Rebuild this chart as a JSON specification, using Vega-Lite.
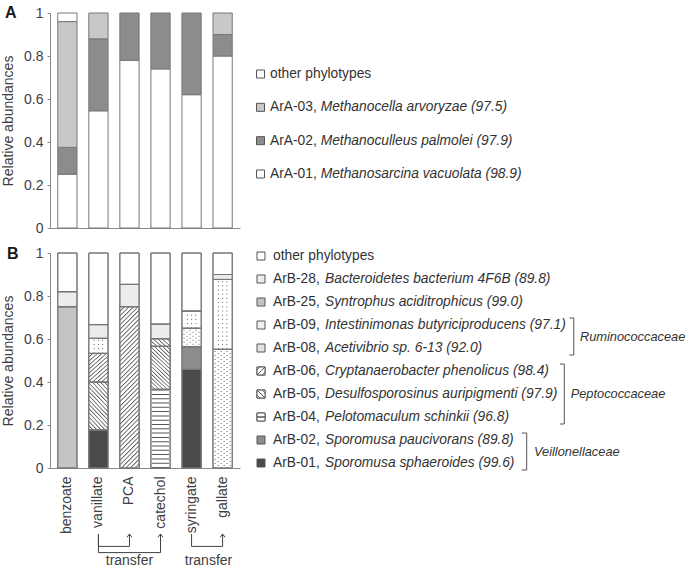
{
  "$schema": "https://vega.github.io/schema/vega-lite/v6.json",
  "padding": {"left": 1, "top": 5, "right": 0, "bottom": 0},
  "config": {
    "view": {"stroke": null},
    "font": "Liberation Sans",
    "text": {"font": "Liberation Sans"},
    "axis": {"labelFont": "Liberation Sans", "labelFontSize": 14, "labelColor": "#404040", "titleFont": "Liberation Sans", "titleFontSize": 14, "titleFontWeight": "normal", "titleColor": "#404040", "domainColor": "#8a8a8a", "tickColor": "#8a8a8a", "grid": false}
  },
  "datasets": {
    "a": [
      {"substrate": "benzoate", "taxon": "ArA-01", "value": 0.25},
      {"substrate": "benzoate", "taxon": "ArA-02", "value": 0.125},
      {"substrate": "benzoate", "taxon": "ArA-03", "value": 0.585},
      {"substrate": "benzoate", "taxon": "other phylotypes", "value": 0.04},
      {"substrate": "vanillate", "taxon": "ArA-01", "value": 0.545},
      {"substrate": "vanillate", "taxon": "ArA-02", "value": 0.335},
      {"substrate": "vanillate", "taxon": "ArA-03", "value": 0.12},
      {"substrate": "PCA", "taxon": "ArA-01", "value": 0.78},
      {"substrate": "PCA", "taxon": "ArA-02", "value": 0.22},
      {"substrate": "catechol", "taxon": "ArA-01", "value": 0.74},
      {"substrate": "catechol", "taxon": "ArA-02", "value": 0.26},
      {"substrate": "syringate", "taxon": "ArA-01", "value": 0.62},
      {"substrate": "syringate", "taxon": "ArA-02", "value": 0.38},
      {"substrate": "gallate", "taxon": "ArA-01", "value": 0.8},
      {"substrate": "gallate", "taxon": "ArA-02", "value": 0.1},
      {"substrate": "gallate", "taxon": "ArA-03", "value": 0.1}
    ],
    "b": [
      {"substrate": "benzoate", "taxon": "ArB-25", "value": 0.75},
      {"substrate": "benzoate", "taxon": "ArB-28", "value": 0.07},
      {"substrate": "benzoate", "taxon": "other phylotypes", "value": 0.18},
      {"substrate": "vanillate", "taxon": "ArB-01", "value": 0.177},
      {"substrate": "vanillate", "taxon": "ArB-05", "value": 0.223},
      {"substrate": "vanillate", "taxon": "ArB-06", "value": 0.133},
      {"substrate": "vanillate", "taxon": "ArB-09", "value": 0.07},
      {"substrate": "vanillate", "taxon": "ArB-28", "value": 0.064},
      {"substrate": "vanillate", "taxon": "other phylotypes", "value": 0.333},
      {"substrate": "PCA", "taxon": "ArB-06", "value": 0.75},
      {"substrate": "PCA", "taxon": "ArB-28", "value": 0.104},
      {"substrate": "PCA", "taxon": "other phylotypes", "value": 0.146},
      {"substrate": "catechol", "taxon": "ArB-04", "value": 0.366},
      {"substrate": "catechol", "taxon": "ArB-05", "value": 0.2},
      {"substrate": "catechol", "taxon": "ArB-06", "value": 0.035},
      {"substrate": "catechol", "taxon": "ArB-28", "value": 0.068},
      {"substrate": "catechol", "taxon": "other phylotypes", "value": 0.331},
      {"substrate": "syringate", "taxon": "ArB-01", "value": 0.459},
      {"substrate": "syringate", "taxon": "ArB-02", "value": 0.105},
      {"substrate": "syringate", "taxon": "ArB-08", "value": 0.086},
      {"substrate": "syringate", "taxon": "ArB-09", "value": 0.08},
      {"substrate": "syringate", "taxon": "other phylotypes", "value": 0.27},
      {"substrate": "gallate", "taxon": "ArB-08", "value": 0.552},
      {"substrate": "gallate", "taxon": "ArB-09", "value": 0.325},
      {"substrate": "gallate", "taxon": "ArB-28", "value": 0.023},
      {"substrate": "gallate", "taxon": "other phylotypes", "value": 0.1}
    ],
    "legA": [
      {"taxon": "other phylotypes", "code": "other phylotypes", "name": ""},
      {"taxon": "ArA-03", "code": "ArA-03,", "name": "Methanocella arvoryzae (97.5)"},
      {"taxon": "ArA-02", "code": "ArA-02,", "name": "Methanoculleus palmolei (97.9)"},
      {"taxon": "ArA-01", "code": "ArA-01,", "name": "Methanosarcina vacuolata (98.9)"}
    ],
    "legB": [
      {"taxon": "other phylotypes", "code": "other phylotypes", "name": ""},
      {"taxon": "ArB-28", "code": "ArB-28,", "name": "Bacteroidetes bacterium 4F6B (89.8)"},
      {"taxon": "ArB-25", "code": "ArB-25,", "name": "Syntrophus aciditrophicus (99.0)"},
      {"taxon": "ArB-09", "code": "ArB-09,", "name": "Intestinimonas butyriciproducens (97.1)"},
      {"taxon": "ArB-08", "code": "ArB-08,", "name": "Acetivibrio sp. 6-13 (92.0)"},
      {"taxon": "ArB-06", "code": "ArB-06,", "name": "Cryptanaerobacter phenolicus (98.4)"},
      {"taxon": "ArB-05", "code": "ArB-05,", "name": "Desulfosporosinus auripigmenti (97.9)"},
      {"taxon": "ArB-04", "code": "ArB-04,", "name": "Pelotomaculum schinkii (96.8)"},
      {"taxon": "ArB-02", "code": "ArB-02,", "name": "Sporomusa paucivorans (89.8)"},
      {"taxon": "ArB-01", "code": "ArB-01,", "name": "Sporomusa sphaeroides (99.6)"}
    ],
    "tr": [
      {"from": "vanillate", "to": "PCA", "level": "inner"},
      {"from": "vanillate", "to": "catechol", "level": "outer"},
      {"from": "syringate", "to": "gallate", "level": "inner"}
    ]
  },
  "bounds": "flush",
  "columns": 2,
  "spacing": {"row": 25, "column": 10},
  "resolve": {"scale": {"fill": "independent"}},
  "concat": [
    {
      "width": 190,
      "height": 215,
      "layer": [
        {
          "data": {"name": "a"},
          "mark": {"type": "bar", "stroke": "#777", "strokeWidth": 1},
          "encoding": {
            "x": {"field": "substrate", "type": "nominal", "sort": null, "scale": {"domain": ["benzoate", "vanillate", "PCA", "catechol", "syringate", "gallate"], "paddingInner": 0.38, "paddingOuter": 0.25}, "axis": {"title": null, "labels": false, "ticks": false}},
            "y": {"field": "value", "type": "quantitative", "stack": "zero", "scale": {"domain": [0, 1], "nice": false}, "axis": {"title": "Relative abundances", "values": [0, 0.2, 0.4, 0.6, 0.8, 1], "format": "~g", "tickSize": 3, "labelPadding": 4, "titlePadding": 8}},
            "fill": {"field": "taxon", "type": "nominal", "scale": {"domain": ["ArA-01", "ArA-02", "ArA-03", "other phylotypes"], "range": ["#ffffff", "#8c8c8c", "#c8c8c8", "#ffffff"]}, "legend": null},
            "order": {"field": "taxon", "type": "nominal", "sort": "ascending"}
          }
        },
        {
          "data": {"values": [{"panel": "A"}]},
          "mark": {"type": "text", "align": "left", "baseline": "alphabetic", "fontSize": 16, "fontWeight": "bold", "color": "#1a1a1a"},
          "encoding": {"x": {"value": -45}, "y": {"value": 5}, "text": {"field": "panel"}}
        }
      ]
    },
    {
      "width": 440,
      "height": 215,
      "data": {"name": "legA"},
      "encoding": {"y": {"field": "taxon", "type": "nominal", "scale": {"type": "point", "domain": ["other phylotypes", "ArA-03", "ArA-02", "ArA-01"], "range": [61, 161], "padding": 0}, "axis": null}},
      "layer": [
        {"mark": {"type": "point", "shape": "square", "size": 64, "filled": true, "stroke": "#555", "strokeWidth": 1, "opacity": 1}, "encoding": {"x": {"value": 10.5}, "fill": {"field": "taxon", "type": "nominal", "scale": {"domain": ["other phylotypes", "ArA-03", "ArA-02", "ArA-01"], "range": ["#ffffff", "#c8c8c8", "#8c8c8c", "#ffffff"]}, "legend": null}}},
        {"mark": {"type": "text", "align": "left", "baseline": "middle", "fontSize": 13.8, "color": "#333"}, "encoding": {"x": {"value": 20}, "text": {"field": "code"}}},
        {"mark": {"type": "text", "align": "left", "baseline": "middle", "fontSize": 13.8, "fontStyle": "italic", "color": "#333"}, "encoding": {"x": {"value": 70.7}, "text": {"field": "name"}}}
      ]
    },
    {
      "width": 190,
      "height": 215,
      "layer": [
        {
          "data": {"name": "b"},
          "transform": [{"stack": "value", "groupby": ["substrate"], "sort": [{"field": "taxon", "order": "ascending"}], "as": ["y0", "y1"]}],
          "encoding": {
            "x": {"field": "substrate", "type": "nominal", "sort": null, "scale": {"domain": ["benzoate", "vanillate", "PCA", "catechol", "syringate", "gallate"], "paddingInner": 0.38, "paddingOuter": 0.25}, "axis": {"title": null, "labelAngle": -90, "ticks": false, "labelPadding": 8}},
            "y": {"field": "y0", "type": "quantitative", "scale": {"domain": [0, 1], "nice": false}, "axis": {"title": "Relative abundances", "values": [0, 0.2, 0.4, 0.6, 0.8, 1], "format": "~g", "tickSize": 3, "labelPadding": 4, "titlePadding": 8}},
            "y2": {"field": "y1"}
          },
          "layer": [
            {
              "mark": {"type": "bar", "stroke": "#777", "strokeWidth": 1},
              "encoding": {
                "fill": {"field": "taxon", "type": "nominal", "legend": null, "scale": {
                  "domain": ["ArB-01", "ArB-02", "ArB-04", "ArB-05", "ArB-06", "ArB-08", "ArB-09", "ArB-25", "ArB-28", "other phylotypes"],
                  "range": ["#4a4a4a", "#8c8c8c", "#ffffff", "#ffffff", "#ffffff", "#ffffff", "#ffffff", "#c4c4c4", "#ececec", "#ffffff"]
                }}
              }
            },
            {"transform": [{"filter": "datum.taxon === 'ArB-05'"}], "mark": {"type": "bar", "stroke": "#777", "strokeWidth": 1,
              "fill": {"gradient": "linear", "x1": 0, "y1": 1, "x2": 0.511, "y2": -0.207, "stops": [
                      {"offset": 0, "color": "#5a5a5a"}, {"offset": 0.021875, "color": "#ffffff"}, {"offset": 0.05, "color": "#ffffff"},
                      {"offset": 0.0625, "color": "#5a5a5a"}, {"offset": 0.084375, "color": "#ffffff"}, {"offset": 0.1125, "color": "#ffffff"},
                      {"offset": 0.125, "color": "#5a5a5a"}, {"offset": 0.146875, "color": "#ffffff"}, {"offset": 0.175, "color": "#ffffff"},
                      {"offset": 0.1875, "color": "#5a5a5a"}, {"offset": 0.209375, "color": "#ffffff"}, {"offset": 0.2375, "color": "#ffffff"},
                      {"offset": 0.25, "color": "#5a5a5a"}, {"offset": 0.271875, "color": "#ffffff"}, {"offset": 0.3, "color": "#ffffff"},
                      {"offset": 0.3125, "color": "#5a5a5a"}, {"offset": 0.334375, "color": "#ffffff"}, {"offset": 0.3625, "color": "#ffffff"},
                      {"offset": 0.375, "color": "#5a5a5a"}, {"offset": 0.396875, "color": "#ffffff"}, {"offset": 0.425, "color": "#ffffff"},
                      {"offset": 0.4375, "color": "#5a5a5a"}, {"offset": 0.459375, "color": "#ffffff"}, {"offset": 0.4875, "color": "#ffffff"},
                      {"offset": 0.5, "color": "#5a5a5a"}, {"offset": 0.521875, "color": "#ffffff"}, {"offset": 0.55, "color": "#ffffff"},
                      {"offset": 0.5625, "color": "#5a5a5a"}, {"offset": 0.584375, "color": "#ffffff"}, {"offset": 0.6125, "color": "#ffffff"},
                      {"offset": 0.625, "color": "#5a5a5a"}, {"offset": 0.646875, "color": "#ffffff"}, {"offset": 0.675, "color": "#ffffff"},
                      {"offset": 0.6875, "color": "#5a5a5a"}, {"offset": 0.709375, "color": "#ffffff"}, {"offset": 0.7375, "color": "#ffffff"},
                      {"offset": 0.75, "color": "#5a5a5a"}, {"offset": 0.771875, "color": "#ffffff"}, {"offset": 0.8, "color": "#ffffff"},
                      {"offset": 0.8125, "color": "#5a5a5a"}, {"offset": 0.834375, "color": "#ffffff"}, {"offset": 0.8625, "color": "#ffffff"},
                      {"offset": 0.875, "color": "#5a5a5a"}, {"offset": 0.896875, "color": "#ffffff"}, {"offset": 0.925, "color": "#ffffff"},
                      {"offset": 0.9375, "color": "#5a5a5a"}, {"offset": 0.959375, "color": "#ffffff"}, {"offset": 0.9875, "color": "#ffffff"},
                      {"offset": 1, "color": "#5a5a5a"}]}}, "encoding": {}},
            {"transform": [{"filter": "datum.taxon === 'ArB-06'"}], "mark": {"type": "bar", "stroke": "#777", "strokeWidth": 1,
              "fill": {"gradient": "linear", "x1": 0, "y1": 0, "x2": 0.1325, "y2": 1.104, "stops": [
                      {"offset": 0, "color": "#5a5a5a"}, {"offset": 0.00875, "color": "#ffffff"}, {"offset": 0.02, "color": "#ffffff"},
                      {"offset": 0.025, "color": "#5a5a5a"}, {"offset": 0.03375, "color": "#ffffff"}, {"offset": 0.045, "color": "#ffffff"},
                      {"offset": 0.05, "color": "#5a5a5a"}, {"offset": 0.05875, "color": "#ffffff"}, {"offset": 0.07, "color": "#ffffff"},
                      {"offset": 0.075, "color": "#5a5a5a"}, {"offset": 0.08375, "color": "#ffffff"}, {"offset": 0.095, "color": "#ffffff"},
                      {"offset": 0.1, "color": "#5a5a5a"}, {"offset": 0.10875, "color": "#ffffff"}, {"offset": 0.12, "color": "#ffffff"},
                      {"offset": 0.125, "color": "#5a5a5a"}, {"offset": 0.13375, "color": "#ffffff"}, {"offset": 0.145, "color": "#ffffff"},
                      {"offset": 0.15, "color": "#5a5a5a"}, {"offset": 0.15875, "color": "#ffffff"}, {"offset": 0.17, "color": "#ffffff"},
                      {"offset": 0.175, "color": "#5a5a5a"}, {"offset": 0.18375, "color": "#ffffff"}, {"offset": 0.195, "color": "#ffffff"},
                      {"offset": 0.2, "color": "#5a5a5a"}, {"offset": 0.20875, "color": "#ffffff"}, {"offset": 0.22, "color": "#ffffff"},
                      {"offset": 0.225, "color": "#5a5a5a"}, {"offset": 0.23375, "color": "#ffffff"}, {"offset": 0.245, "color": "#ffffff"},
                      {"offset": 0.25, "color": "#5a5a5a"}, {"offset": 0.25875, "color": "#ffffff"}, {"offset": 0.27, "color": "#ffffff"},
                      {"offset": 0.275, "color": "#5a5a5a"}, {"offset": 0.28375, "color": "#ffffff"}, {"offset": 0.295, "color": "#ffffff"},
                      {"offset": 0.3, "color": "#5a5a5a"}, {"offset": 0.30875, "color": "#ffffff"}, {"offset": 0.32, "color": "#ffffff"},
                      {"offset": 0.325, "color": "#5a5a5a"}, {"offset": 0.33375, "color": "#ffffff"}, {"offset": 0.345, "color": "#ffffff"},
                      {"offset": 0.35, "color": "#5a5a5a"}, {"offset": 0.35875, "color": "#ffffff"}, {"offset": 0.37, "color": "#ffffff"},
                      {"offset": 0.375, "color": "#5a5a5a"}, {"offset": 0.38375, "color": "#ffffff"}, {"offset": 0.395, "color": "#ffffff"},
                      {"offset": 0.4, "color": "#5a5a5a"}, {"offset": 0.40875, "color": "#ffffff"}, {"offset": 0.42, "color": "#ffffff"},
                      {"offset": 0.425, "color": "#5a5a5a"}, {"offset": 0.43375, "color": "#ffffff"}, {"offset": 0.445, "color": "#ffffff"},
                      {"offset": 0.45, "color": "#5a5a5a"}, {"offset": 0.45875, "color": "#ffffff"}, {"offset": 0.47, "color": "#ffffff"},
                      {"offset": 0.475, "color": "#5a5a5a"}, {"offset": 0.48375, "color": "#ffffff"}, {"offset": 0.495, "color": "#ffffff"},
                      {"offset": 0.5, "color": "#5a5a5a"}, {"offset": 0.50875, "color": "#ffffff"}, {"offset": 0.52, "color": "#ffffff"},
                      {"offset": 0.525, "color": "#5a5a5a"}, {"offset": 0.53375, "color": "#ffffff"}, {"offset": 0.545, "color": "#ffffff"},
                      {"offset": 0.55, "color": "#5a5a5a"}, {"offset": 0.55875, "color": "#ffffff"}, {"offset": 0.57, "color": "#ffffff"},
                      {"offset": 0.575, "color": "#5a5a5a"}, {"offset": 0.58375, "color": "#ffffff"}, {"offset": 0.595, "color": "#ffffff"},
                      {"offset": 0.6, "color": "#5a5a5a"}, {"offset": 0.60875, "color": "#ffffff"}, {"offset": 0.62, "color": "#ffffff"},
                      {"offset": 0.625, "color": "#5a5a5a"}, {"offset": 0.63375, "color": "#ffffff"}, {"offset": 0.645, "color": "#ffffff"},
                      {"offset": 0.65, "color": "#5a5a5a"}, {"offset": 0.65875, "color": "#ffffff"}, {"offset": 0.67, "color": "#ffffff"},
                      {"offset": 0.675, "color": "#5a5a5a"}, {"offset": 0.68375, "color": "#ffffff"}, {"offset": 0.695, "color": "#ffffff"},
                      {"offset": 0.7, "color": "#5a5a5a"}, {"offset": 0.70875, "color": "#ffffff"}, {"offset": 0.72, "color": "#ffffff"},
                      {"offset": 0.725, "color": "#5a5a5a"}, {"offset": 0.73375, "color": "#ffffff"}, {"offset": 0.745, "color": "#ffffff"},
                      {"offset": 0.75, "color": "#5a5a5a"}, {"offset": 0.75875, "color": "#ffffff"}, {"offset": 0.77, "color": "#ffffff"},
                      {"offset": 0.775, "color": "#5a5a5a"}, {"offset": 0.78375, "color": "#ffffff"}, {"offset": 0.795, "color": "#ffffff"},
                      {"offset": 0.8, "color": "#5a5a5a"}, {"offset": 0.80875, "color": "#ffffff"}, {"offset": 0.82, "color": "#ffffff"},
                      {"offset": 0.825, "color": "#5a5a5a"}, {"offset": 0.83375, "color": "#ffffff"}, {"offset": 0.845, "color": "#ffffff"},
                      {"offset": 0.85, "color": "#5a5a5a"}, {"offset": 0.85875, "color": "#ffffff"}, {"offset": 0.87, "color": "#ffffff"},
                      {"offset": 0.875, "color": "#5a5a5a"}, {"offset": 0.88375, "color": "#ffffff"}, {"offset": 0.895, "color": "#ffffff"},
                      {"offset": 0.9, "color": "#5a5a5a"}, {"offset": 0.90875, "color": "#ffffff"}, {"offset": 0.92, "color": "#ffffff"},
                      {"offset": 0.925, "color": "#5a5a5a"}, {"offset": 0.93375, "color": "#ffffff"}, {"offset": 0.945, "color": "#ffffff"},
                      {"offset": 0.95, "color": "#5a5a5a"}, {"offset": 0.95875, "color": "#ffffff"}, {"offset": 0.97, "color": "#ffffff"},
                      {"offset": 0.975, "color": "#5a5a5a"}, {"offset": 0.98375, "color": "#ffffff"}, {"offset": 0.995, "color": "#ffffff"},
                      {"offset": 1, "color": "#5a5a5a"}]}}, "encoding": {}},
            {"transform": [{"filter": "datum.taxon === 'ArB-04'"}], "mark": {"type": "rule", "strokeWidth": 17, "strokeDash": [1, 3.3], "color": "#555"}, "encoding": {}},
            {"transform": [{"filter": "datum.taxon === 'ArB-08'"}], "mark": {"type": "rule", "strokeWidth": 1, "strokeDash": [1, 3], "strokeDashOffset": 0, "color": "#666", "xOffset": -7.5}, "encoding": {}},
            {"transform": [{"filter": "datum.taxon === 'ArB-08'"}], "mark": {"type": "rule", "strokeWidth": 1, "strokeDash": [1, 3], "strokeDashOffset": 2, "color": "#666", "xOffset": -4.5}, "encoding": {}},
            {"transform": [{"filter": "datum.taxon === 'ArB-08'"}], "mark": {"type": "rule", "strokeWidth": 1, "strokeDash": [1, 3], "strokeDashOffset": 0, "color": "#666", "xOffset": -1.5}, "encoding": {}},
            {"transform": [{"filter": "datum.taxon === 'ArB-08'"}], "mark": {"type": "rule", "strokeWidth": 1, "strokeDash": [1, 3], "strokeDashOffset": 2, "color": "#666", "xOffset": 1.5}, "encoding": {}},
            {"transform": [{"filter": "datum.taxon === 'ArB-08'"}], "mark": {"type": "rule", "strokeWidth": 1, "strokeDash": [1, 3], "strokeDashOffset": 0, "color": "#666", "xOffset": 4.5}, "encoding": {}},
            {"transform": [{"filter": "datum.taxon === 'ArB-08'"}], "mark": {"type": "rule", "strokeWidth": 1, "strokeDash": [1, 3], "strokeDashOffset": 2, "color": "#666", "xOffset": 7.5}, "encoding": {}},
            {"transform": [{"filter": "datum.taxon === 'ArB-09'"}], "mark": {"type": "rule", "strokeWidth": 1, "strokeDash": [1, 3.2], "color": "#666", "xOffset": -4.2}, "encoding": {}},
            {"transform": [{"filter": "datum.taxon === 'ArB-09'"}], "mark": {"type": "rule", "strokeWidth": 1, "strokeDash": [1, 3.2], "color": "#666", "xOffset": 0}, "encoding": {}},
            {"transform": [{"filter": "datum.taxon === 'ArB-09'"}], "mark": {"type": "rule", "strokeWidth": 1, "strokeDash": [1, 3.2], "color": "#666", "xOffset": 4.2}, "encoding": {}},
            {"mark": {"type": "bar", "fill": "transparent", "stroke": "#777", "strokeWidth": 1}, "encoding": {}}
          ]
        },
        {
          "data": {"values": [{"panel": "B"}]},
          "mark": {"type": "text", "align": "left", "baseline": "alphabetic", "fontSize": 16, "fontWeight": "bold", "color": "#1a1a1a"},
          "encoding": {"x": {"value": -43}, "y": {"value": 6}, "text": {"field": "panel"}}
        }
      ]
    },
    {
      "width": 440,
      "height": 215,
      "data": {"name": "legB"},
      "encoding": {"y": {"field": "taxon", "type": "nominal", "scale": {"type": "point", "domain": ["other phylotypes", "ArB-28", "ArB-25", "ArB-09", "ArB-08", "ArB-06", "ArB-05", "ArB-04", "ArB-02", "ArB-01"], "range": [3, 210], "padding": 0}, "axis": null}},
      "layer": [
        {"mark": {"type": "point", "shape": "square", "size": 64, "filled": true, "stroke": "#555", "strokeWidth": 1, "opacity": 1}, "encoding": {"x": {"value": 11}, "fill": {"field": "taxon", "type": "nominal", "legend": null, "scale": {
          "domain": ["other phylotypes", "ArB-28", "ArB-25", "ArB-09", "ArB-08", "ArB-06", "ArB-05", "ArB-04", "ArB-02", "ArB-01"],
          "range": ["#ffffff", "#ececec", "#c4c4c4", "#f2f2f2", "#e2e2e2", "#ffffff", "#ffffff", "#ffffff", "#8c8c8c", "#4a4a4a"]}}}},
        {"transform": [{"filter": "datum.taxon === 'ArB-06'"}], "mark": {"type": "point", "shape": "square", "size": 64, "filled": true, "stroke": "#555", "strokeWidth": 1, "opacity": 1,
          "fill": {"gradient": "linear", "x1": 0, "y1": 0, "x2": 1, "y2": 1, "stops": [{"offset": 0, "color": "#fff"}, {"offset": 0.15, "color": "#fff"}, {"offset": 0.2, "color": "#555"}, {"offset": 0.25, "color": "#fff"}, {"offset": 0.45, "color": "#fff"}, {"offset": 0.5, "color": "#555"}, {"offset": 0.55, "color": "#fff"}, {"offset": 0.75, "color": "#fff"}, {"offset": 0.8, "color": "#555"}, {"offset": 0.85, "color": "#fff"}, {"offset": 1, "color": "#fff"}]}}, "encoding": {"x": {"value": 11}}},
        {"transform": [{"filter": "datum.taxon === 'ArB-05'"}], "mark": {"type": "point", "shape": "square", "size": 64, "filled": true, "stroke": "#555", "strokeWidth": 1, "opacity": 1,
          "fill": {"gradient": "linear", "x1": 0, "y1": 1, "x2": 1, "y2": 0, "stops": [{"offset": 0, "color": "#fff"}, {"offset": 0.15, "color": "#fff"}, {"offset": 0.2, "color": "#555"}, {"offset": 0.25, "color": "#fff"}, {"offset": 0.45, "color": "#fff"}, {"offset": 0.5, "color": "#555"}, {"offset": 0.55, "color": "#fff"}, {"offset": 0.75, "color": "#fff"}, {"offset": 0.8, "color": "#555"}, {"offset": 0.85, "color": "#fff"}, {"offset": 1, "color": "#fff"}]}}, "encoding": {"x": {"value": 11}}},
        {"transform": [{"filter": "datum.taxon === 'ArB-04'"}], "mark": {"type": "point", "shape": "square", "size": 64, "filled": true, "stroke": "#555", "strokeWidth": 1, "opacity": 1,
          "fill": {"gradient": "linear", "x1": 0, "y1": 0, "x2": 0, "y2": 1, "stops": [{"offset": 0, "color": "#fff"}, {"offset": 0.4, "color": "#fff"}, {"offset": 0.45, "color": "#555"}, {"offset": 0.55, "color": "#555"}, {"offset": 0.6, "color": "#fff"}, {"offset": 1, "color": "#fff"}]}}, "encoding": {"x": {"value": 11}}},
        {"mark": {"type": "text", "align": "left", "baseline": "middle", "fontSize": 13.8, "color": "#333"}, "encoding": {"x": {"value": 23}, "text": {"field": "code"}}},
        {"mark": {"type": "text", "align": "left", "baseline": "middle", "fontSize": 13.8, "fontStyle": "italic", "color": "#333"}, "encoding": {"x": {"value": 75}, "text": {"field": "name"}}},
        {"data": {"values": [{"a": "ArB-09", "b": "ArB-08", "fam": "Ruminococcaceae"}]}, "layer": [
          {"mark": {"type": "rule", "color": "#555", "yOffset": -7, "y2Offset": 7}, "encoding": {"x": {"value": 323.8}, "y": {"field": "a", "type": "nominal"}, "y2": {"field": "b"}}},
          {"mark": {"type": "rule", "color": "#555", "yOffset": -7}, "encoding": {"x": {"value": 319.5}, "x2": {"value": 323.8}, "y": {"field": "a", "type": "nominal"}}},
          {"mark": {"type": "rule", "color": "#555", "yOffset": 7}, "encoding": {"x": {"value": 319.5}, "x2": {"value": 323.8}, "y": {"field": "b", "type": "nominal"}}},
          {"mark": {"type": "text", "align": "left", "baseline": "middle", "fontSize": 12.8, "fontStyle": "italic", "color": "#333", "yOffset": 11.5}, "encoding": {"x": {"value": 330}, "y": {"field": "a", "type": "nominal"}, "text": {"field": "fam"}}}
        ]},
        {"data": {"values": [{"a": "ArB-06", "b": "ArB-04", "fam": "Peptococcaceae"}]}, "layer": [
          {"mark": {"type": "rule", "color": "#555", "yOffset": -7, "y2Offset": 7}, "encoding": {"x": {"value": 314.3}, "y": {"field": "a", "type": "nominal"}, "y2": {"field": "b"}}},
          {"mark": {"type": "rule", "color": "#555", "yOffset": -7}, "encoding": {"x": {"value": 310}, "x2": {"value": 314.3}, "y": {"field": "a", "type": "nominal"}}},
          {"mark": {"type": "rule", "color": "#555", "yOffset": 7}, "encoding": {"x": {"value": 310}, "x2": {"value": 314.3}, "y": {"field": "b", "type": "nominal"}}},
          {"mark": {"type": "text", "align": "left", "baseline": "middle", "fontSize": 12.8, "fontStyle": "italic", "color": "#333", "yOffset": 23}, "encoding": {"x": {"value": 320.7}, "y": {"field": "a", "type": "nominal"}, "text": {"field": "fam"}}}
        ]},
        {"data": {"values": [{"a": "ArB-02", "b": "ArB-01", "fam": "Veillonellaceae"}]}, "layer": [
          {"mark": {"type": "rule", "color": "#555", "yOffset": -7, "y2Offset": 7}, "encoding": {"x": {"value": 276.7}, "y": {"field": "a", "type": "nominal"}, "y2": {"field": "b"}}},
          {"mark": {"type": "rule", "color": "#555", "yOffset": -7}, "encoding": {"x": {"value": 271.7}, "x2": {"value": 276.7}, "y": {"field": "a", "type": "nominal"}}},
          {"mark": {"type": "rule", "color": "#555", "yOffset": 7}, "encoding": {"x": {"value": 271.7}, "x2": {"value": 276.7}, "y": {"field": "b", "type": "nominal"}}},
          {"mark": {"type": "text", "align": "left", "baseline": "middle", "fontSize": 12.8, "fontStyle": "italic", "color": "#333", "yOffset": 11.5}, "encoding": {"x": {"value": 284}, "y": {"field": "a", "type": "nominal"}, "text": {"field": "fam"}}}
        ]}
      ]
    },
    {
      "width": 190,
      "height": 72,
      "data": {"name": "tr"},
      "encoding": {
        "x": {"field": "from", "type": "nominal", "sort": null, "scale": {"domain": ["benzoate", "vanillate", "PCA", "catechol", "syringate", "gallate"], "paddingInner": 0.38, "paddingOuter": 0.25}, "axis": null},
        "y": {"field": "level", "type": "nominal", "scale": {"type": "point", "domain": ["top", "g1", "inner", "outer", "g2", "label"], "range": [41, 72], "padding": 0}, "axis": null}
      },
      "layer": [
        {"mark": {"type": "rule", "color": "#404040", "strokeWidth": 1}, "encoding": {"y2": {"datum": "top"}}},
        {"mark": {"type": "rule", "color": "#404040", "strokeWidth": 1}, "encoding": {"x2": {"field": "to"}}},
        {"mark": {"type": "rule", "color": "#404040", "strokeWidth": 1}, "encoding": {"x": {"field": "to", "type": "nominal"}, "y2": {"datum": "top"}}},
        {"mark": {"type": "point", "shape": "M-1,1.3L0,0L1,1.3", "size": 25, "filled": false, "stroke": "#404040", "strokeWidth": 1, "opacity": 1}, "encoding": {"x": {"field": "to", "type": "nominal"}, "y": {"datum": "top"}}},
        {"data": {"values": [{"label": "transfer", "at": "PCA"}]}, "mark": {"type": "text", "align": "center", "baseline": "alphabetic", "fontSize": 14, "color": "#404040"}, "encoding": {"x": {"field": "at", "type": "nominal"}, "y": {"datum": "label"}, "text": {"field": "label"}}},
        {"data": {"values": [{"label": "transfer", "at": "gallate"}]}, "mark": {"type": "text", "align": "right", "baseline": "alphabetic", "fontSize": 14, "color": "#404040"}, "encoding": {"x": {"field": "at", "type": "nominal", "bandPosition": 1}, "y": {"datum": "label"}, "text": {"field": "label"}}}
      ]
    }
  ]
}
